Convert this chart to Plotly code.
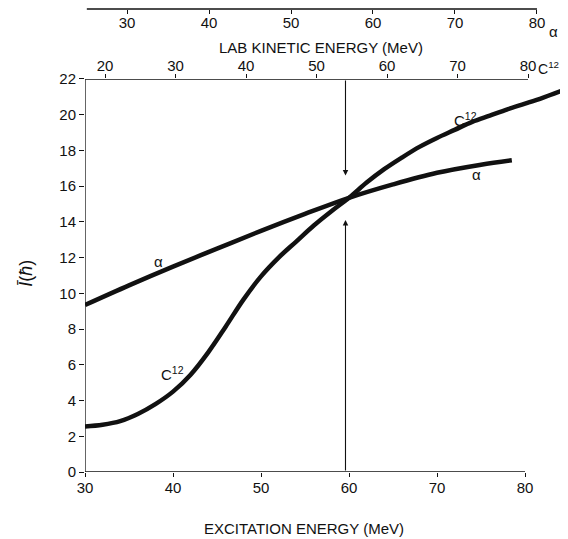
import plotly.graph_objects as go

# ---- data ----
exc_ticks = [30, 40, 50, 60, 70, 80]
i_ticks = [0, 2, 4, 6, 8, 10, 12, 14, 16, 18, 20, 22]
c12_lab_ticks = [20, 30, 40, 50, 60, 70, 80]
alpha_lab_ticks = [30, 40, 50, 60, 70, 80]

alpha_x = [30, 35, 40, 45, 50, 55, 60, 65, 70, 75, 78.5]
alpha_y = [9.35, 10.45, 11.5, 12.5, 13.5, 14.45, 15.35, 16.1, 16.75, 17.2, 17.45]

c12_x = [30, 32, 34, 36, 38, 40, 42, 44, 46, 48, 50, 52, 54, 56, 58, 60,
         62, 64, 66, 68, 70, 72, 74, 76, 78, 80, 82, 84.5]
c12_y = [2.55, 2.65, 2.85, 3.25, 3.8, 4.5, 5.45, 6.7, 8.15, 9.65, 10.95, 12.0,
         12.9, 13.8, 14.6, 15.35, 16.2, 16.95, 17.6, 18.2, 18.7, 19.15, 19.6,
         19.95, 20.3, 20.62, 20.95, 21.4]

arrow_x = 59.6
arrow_top_tip = 16.6
arrow_bottom_tip = 14.1

FONT = "Liberation Sans"
BLACK = "#111111"

fig = go.Figure()
fig.add_trace(go.Scatter(x=alpha_x, y=alpha_y, mode="lines",
                         line=dict(color=BLACK, width=4.5, shape="spline"),
                         showlegend=False, hoverinfo="skip"))
fig.add_trace(go.Scatter(x=c12_x, y=c12_y, mode="lines",
                         line=dict(color=BLACK, width=4.5, shape="spline"),
                         showlegend=False, hoverinfo="skip"))
# invisible traces to activate the top axes
fig.add_trace(go.Scatter(x=[c12_lab_ticks[0]], y=[0], xaxis="x2", mode="markers",
                         marker=dict(opacity=0), showlegend=False, hoverinfo="skip"))
fig.add_trace(go.Scatter(x=[alpha_lab_ticks[0]], y=[0], xaxis="x3", mode="markers",
                         marker=dict(opacity=0), showlegend=False, hoverinfo="skip"))

alpha_pos = 0.9978
axis_common = dict(showgrid=False, zeroline=False, showline=False, ticks="outside",
                   tickcolor=BLACK, tickwidth=1.2, ticklen=4, automargin=False,
                   tickfont=dict(family=FONT, size=15, color=BLACK))

fig.update_layout(
    width=560, height=531,
    margin=dict(l=77, r=1, t=0, b=67, autoexpand=False),
    paper_bgcolor="white", plot_bgcolor="white",
    xaxis=dict(range=[30, 84.77], tickvals=exc_ticks, ticklabelstandoff=-2, **axis_common),
    yaxis=dict(range=[0, 22], domain=[0, 0.847], tickvals=i_ticks,
               **{**axis_common, "ticklen": 5}),
    xaxis2=dict(range=[17.163, 85.53], overlaying="x", anchor="y", side="top",
                tickvals=c12_lab_ticks, ticklabelstandoff=-3, **axis_common),
    xaxis3=dict(range=[24.878, 83.66], overlaying="x", anchor="free", position=alpha_pos,
                side="bottom", tickvals=alpha_lab_ticks, ticklabelstandoff=-4, **axis_common),
)

line_style = dict(color=BLACK, width=1.3)
fig.add_shape(type="line", xref="x", yref="y", x0=30, x1=30, y0=0, y1=22, line=line_style)
fig.add_shape(type="line", xref="x", yref="y", x0=30, x1=80, y0=0, y1=0, line=line_style)
fig.add_shape(type="line", xref="x2", yref="y", x0=17.2, x1=80, y0=22, y1=22, line=line_style)
fig.add_shape(type="line", xref="x3", yref="paper", x0=25.1, x1=80, y0=alpha_pos, y1=alpha_pos,
              line=line_style)
# vertical marker line with arrows
fig.add_annotation(x=arrow_x, y=arrow_top_tip, ax=arrow_x, ay=22, xref="x", yref="y",
                   axref="x", ayref="y", showarrow=True, arrowhead=2, arrowsize=1,
                   arrowwidth=1.1, arrowcolor=BLACK, text="")
fig.add_annotation(x=arrow_x, y=arrow_bottom_tip, ax=arrow_x, ay=0, xref="x", yref="y",
                   axref="x", ayref="y", showarrow=True, arrowhead=2, arrowsize=1,
                   arrowwidth=1.1, arrowcolor=BLACK, text="")

tf = dict(family=FONT, size=15, color=BLACK)
C = dict(showarrow=False, xanchor="center", yanchor="middle")
fig.add_annotation(text="LAB KINETIC ENERGY (MeV)", xref="paper", yref="paper",
                   x=0.49, y=0.914, font=tf, **C)
fig.add_annotation(text="EXCITATION ENERGY (MeV)", xref="paper", yref="paper",
                   x=0.454, y=-0.1207, font=tf, **C)
fig.add_annotation(text="α", xref="paper", yref="paper", x=0.972, y=0.950, font=tf, **C)
fig.add_annotation(text="C<sup>12</sup>", xref="paper", yref="paper", x=0.9876, y=0.871,
                   font=dict(family=FONT, size=14, color=BLACK), showarrow=False,
                   xanchor="right", yanchor="middle")
fig.add_annotation(text="<i>Ī</i>(<i>ħ</i>)", xref="paper", yref="paper", x=-0.123, y=0.429,
                   textangle=-90, font=dict(family=FONT, size=18, color=BLACK), **C)
# curve labels
fig.add_annotation(text="α", x=38.4, y=11.76, xref="x", yref="y", font=tf, **C)
fig.add_annotation(text="C<sup>12</sup>", x=39.9, y=5.54, xref="x", yref="y", font=tf, **C)
fig.add_annotation(text="C<sup>12</sup>", x=73.2, y=19.76, xref="x", yref="y", font=tf, **C)
fig.add_annotation(text="α", x=74.5, y=16.63, xref="x", yref="y", font=tf, **C)

fig.write_html("out.html")
